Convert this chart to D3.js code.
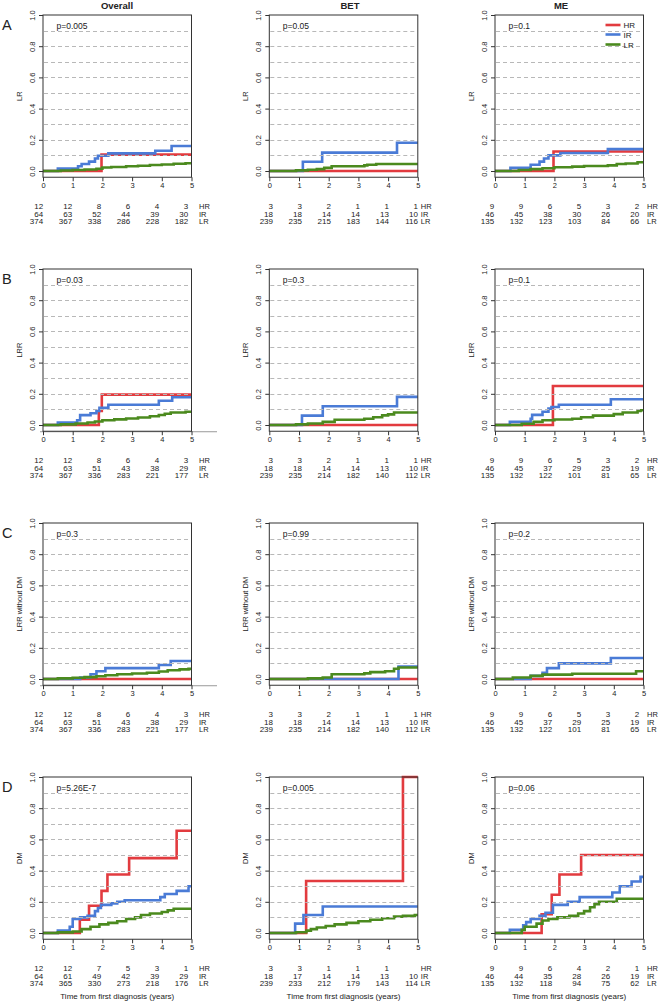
<!DOCTYPE html>
<html><head><meta charset="utf-8">
<script src="https://cdn.jsdelivr.net/npm/d3@7"></script>
<style>body{margin:0;background:#fff} svg{display:block} text{font-family:"Liberation Sans",Arial,sans-serif;fill:#222}</style>
</head><body><svg id="c" width="660" height="1007"></svg>
<script>
// ---------- categories / labels ----------
const rowLetters = ["A","B","C","D"];
const colTitles = ["Overall","BET","ME"];
const yTitles = ["LR","LRR","LRR without DM","DM"];
const groups = ["HR","IR","LR"];
const timeTicks = [0,1,2,3,4,5];
const yTickValues = [0,0.2,0.4,0.6,0.8,1.0];
const gridValues = [0.1,0.2,0.3,0.4,0.5,0.6,0.7,0.8,0.9];
const pValues = [
  ["p=0.005","p=0.05","p=0.1"],
  ["p=0.03","p=0.3","p=0.1"],
  ["p=0.3","p=0.99","p=0.2"],
  ["p=5.26E-7","p=0.005","p=0.06"]
];
const xTitle = "Time from first diagnosis (years)";

// ---------- cumulative incidence step curves [time, value] ----------
const A_Overall_HR = [[0,0],[1.97,0.105]];
const A_Overall_IR = [[0,0],[0.5,0.015],[1.18,0.03],[1.3,0.045],[1.55,0.06],[1.75,0.08],[1.85,0.098],[2.2,0.113],[3.78,0.13],[4.33,0.16]];
const A_Overall_LR = [[0,0],[0.6,0.003],[1.0,0.006],[1.4,0.01],[1.8,0.014],[2.0,0.022],[2.3,0.026],[2.8,0.03],[3.2,0.034],[3.6,0.038],[4.0,0.042],[4.4,0.046],[4.8,0.05]];
const A_BET_HR = [[0,0]];
const A_BET_IR = [[0,0],[1.13,0.059],[1.78,0.118],[4.3,0.181]];
const A_BET_LR = [[0,0],[0.9,0.004],[1.3,0.008],[1.6,0.012],[1.85,0.02],[2.1,0.03],[3.2,0.036],[3.3,0.04],[3.6,0.045]];
const A_ME_HR = [[0,0],[1.97,0.125]];
const A_ME_IR = [[0,0],[0.52,0.02],[1.2,0.04],[1.5,0.06],[1.65,0.08],[1.8,0.1],[2.2,0.115],[3.8,0.14]];
const A_ME_LR = [[0,0],[0.8,0.006],[1.2,0.012],[1.6,0.018],[2.0,0.024],[2.6,0.028],[3.0,0.032],[3.8,0.036],[4.1,0.045],[4.4,0.048],[4.8,0.056]];

const B_Overall_HR = [[0,0],[1.88,0.09],[1.98,0.195]];
const B_Overall_IR = [[0,0],[0.5,0.015],[1.15,0.03],[1.25,0.063],[1.6,0.075],[1.8,0.09],[1.9,0.11],[2.2,0.13],[3.9,0.155],[4.35,0.178]];
const B_Overall_LR = [[0,0],[0.6,0.004],[1.1,0.01],[1.5,0.016],[1.75,0.022],[2.0,0.03],[2.4,0.036],[2.8,0.042],[3.2,0.048],[3.6,0.056],[3.9,0.064],[4.1,0.072],[4.3,0.08],[4.8,0.085]];
const B_BET_HR = [[0,0]];
const B_BET_IR = [[0,0],[1.1,0.06],[1.8,0.12],[4.3,0.18]];
const B_BET_LR = [[0,0],[0.9,0.004],[1.3,0.01],[1.8,0.02],[2.2,0.034],[3.2,0.04],[3.5,0.05],[3.8,0.062],[4.0,0.068],[4.2,0.08]];
const B_ME_HR = [[0,0],[1.95,0.25]];
const B_ME_IR = [[0,0],[0.5,0.02],[1.2,0.04],[1.25,0.065],[1.6,0.085],[1.8,0.105],[1.9,0.115],[2.15,0.13],[3.9,0.165]];
const B_ME_LR = [[0,0],[0.9,0.008],[1.3,0.02],[1.6,0.03],[2.0,0.035],[2.6,0.04],[2.9,0.05],[3.3,0.06],[4.0,0.07],[4.3,0.08],[4.8,0.09],[4.9,0.095]];

const C_Overall_HR = [[0,0]];
const C_Overall_IR = [[0,0],[1.25,0.01],[1.6,0.03],[1.8,0.05],[2.1,0.07],[3.9,0.09],[4.3,0.115]];
const C_Overall_LR = [[0,0],[0.5,0.004],[1.0,0.008],[1.4,0.012],[1.8,0.018],[2.1,0.024],[2.5,0.03],[3.0,0.035],[3.5,0.04],[3.9,0.048],[4.2,0.056],[4.6,0.062],[4.9,0.065]];
const C_BET_HR = [[0,0]];
const C_BET_IR = [[0,0],[4.35,0.08]];
const C_BET_LR = [[0,0],[1.3,0.004],[1.8,0.01],[2.1,0.03],[3.2,0.036],[3.4,0.044],[3.9,0.05],[4.2,0.066],[4.35,0.074]];
const C_ME_HR = [[0,0]];
const C_ME_IR = [[0,0],[1.2,0.02],[1.6,0.04],[1.75,0.07],[2.15,0.1],[3.9,0.135]];
const C_ME_LR = [[0,0],[0.6,0.01],[1.2,0.02],[1.6,0.028],[2.6,0.034],[4.75,0.05]];

const D_Overall_HR = [[0,0],[1.24,0.085],[1.55,0.175],[1.97,0.27],[2.17,0.375],[2.9,0.48],[4.5,0.655]];
const D_Overall_IR = [[0,0],[0.5,0.015],[0.9,0.04],[1.0,0.09],[1.25,0.1],[1.5,0.11],[1.75,0.14],[1.85,0.16],[1.95,0.18],[2.3,0.19],[2.5,0.2],[2.75,0.21],[3.95,0.23],[4.1,0.25],[4.5,0.27],[4.9,0.3]];
const D_Overall_LR = [[0,0],[0.5,0.004],[1.0,0.01],[1.3,0.025],[1.6,0.04],[1.9,0.055],[2.2,0.065],[2.5,0.075],[2.8,0.09],[3.1,0.1],[3.3,0.115],[3.6,0.125],[4.0,0.135],[4.2,0.145],[4.4,0.155]];
const D_BET_HR = [[0,0],[1.24,0.333],[4.5,1.0]];
const D_BET_IR = [[0,0],[0.87,0.06],[1.15,0.115],[1.8,0.17]];
const D_BET_LR = [[0,0],[0.9,0.005],[1.25,0.015],[1.4,0.025],[1.6,0.035],[1.9,0.045],[2.2,0.055],[2.6,0.065],[3.0,0.075],[3.4,0.085],[3.8,0.095],[4.2,0.105],[4.5,0.11],[4.9,0.115]];
const D_ME_HR = [[0,0],[1.57,0.12],[1.91,0.245],[2.17,0.375],[2.9,0.5]];
const D_ME_IR = [[0,0],[0.5,0.02],[0.95,0.05],[1.05,0.07],[1.2,0.09],[1.5,0.11],[1.7,0.13],[1.95,0.18],[2.45,0.2],[2.85,0.23],[3.95,0.26],[4.2,0.3],[4.6,0.33],[4.9,0.36]];
const D_ME_LR = [[0,0],[0.9,0.02],[1.0,0.04],[1.4,0.06],[1.6,0.08],[1.8,0.09],[2.1,0.1],[2.5,0.11],[2.8,0.125],[3.0,0.14],[3.2,0.165],[3.35,0.185],[3.5,0.2],[4.1,0.22]];

// ---------- numbers at risk (rows HR, IR, LR; columns = timeTicks) ----------
const risk_A_Overall = [[12,12,8,6,4,3],[64,63,52,44,39,30],[374,367,338,286,228,182]];
const risk_A_BET = [[3,3,2,1,1,1],[18,18,14,14,13,10],[239,235,215,183,144,116]];
const risk_A_ME = [[9,9,6,5,3,2],[46,45,38,30,26,20],[135,132,123,103,84,66]];
const risk_B_Overall = [[12,12,8,6,4,3],[64,63,51,43,38,29],[374,367,336,283,221,177]];
const risk_B_BET = [[3,3,2,1,1,1],[18,18,14,14,13,10],[239,235,214,182,140,112]];
const risk_B_ME = [[9,9,6,5,3,2],[46,45,37,29,25,19],[135,132,122,101,81,65]];
const risk_C_Overall = [[12,12,8,6,4,3],[64,63,51,43,38,29],[374,367,336,283,221,177]];
const risk_C_BET = [[3,3,2,1,1,1],[18,18,14,14,13,10],[239,235,214,182,140,112]];
const risk_C_ME = [[9,9,6,5,3,2],[46,45,37,29,25,19],[135,132,122,101,81,65]];
const risk_D_Overall = [[12,12,7,5,3,1],[64,61,49,42,39,29],[374,365,330,273,218,176]];
const risk_D_BET = [[3,3,1,1,1,""],[18,17,14,14,13,10],[239,233,212,179,143,114]];
const risk_D_ME = [[9,9,6,4,2,1],[46,44,35,28,26,19],[135,132,118,94,75,62]];

const groupColors = ["#e23b3f","#4a7bd6","#4b8a1e"];

// table built from the arrays above
const curveTable = [
  [[A_Overall_HR,A_Overall_IR,A_Overall_LR],[A_BET_HR,A_BET_IR,A_BET_LR],[A_ME_HR,A_ME_IR,A_ME_LR]],
  [[B_Overall_HR,B_Overall_IR,B_Overall_LR],[B_BET_HR,B_BET_IR,B_BET_LR],[B_ME_HR,B_ME_IR,B_ME_LR]],
  [[C_Overall_HR,C_Overall_IR,C_Overall_LR],[C_BET_HR,C_BET_IR,C_BET_LR],[C_ME_HR,C_ME_IR,C_ME_LR]],
  [[D_Overall_HR,D_Overall_IR,D_Overall_LR],[D_BET_HR,D_BET_IR,D_BET_LR],[D_ME_HR,D_ME_IR,D_ME_LR]]
];
const riskTable = [
  [risk_A_Overall,risk_A_BET,risk_A_ME],
  [risk_B_Overall,risk_B_BET,risk_B_ME],
  [risk_C_Overall,risk_C_BET,risk_C_ME],
  [risk_D_Overall,risk_D_BET,risk_D_ME]
];

// ---------- layout ----------
const colLeft = [43, 269.3, 495];
const plotW = 148.5;
const rowTop = [15, 269, 523, 777];
const plotH = 156;
const colTitleX = [117, 350, 561];
const riskShift = [0.2, 3.7, -0.8];      // per-column horizontal shift of the at-risk table
const riskLabelDx = [7.5, 3, 3.5];        // group label offset right of x=5

const svg = d3.select("#c");
svg.append("rect").attr("width",660).attr("height",1007).attr("fill","#fff");

colTitles.forEach((t,i)=>{
  svg.append("text").attr("x",colTitleX[i]).attr("y",9).attr("text-anchor","middle")
    .attr("font-size",9.5).attr("font-weight","bold").text(t);
});

rowLetters.forEach((L,r)=>{
  svg.append("text").attr("x",2).attr("y",rowTop[r]+15).attr("font-size",14.5).text(L);
});

const stepLine = d3.line().curve(d3.curveStepAfter);

for (let r=0;r<4;r++){
  for (let c=0;c<3;c++){
    const x = d3.scaleLinear().domain([0,5]).range([colLeft[c], colLeft[c]+plotW]);
    const y = d3.scaleLinear().domain([0,1]).range([rowTop[r]+plotH, rowTop[r]]);
    const g = svg.append("g");
    const fb = y(-0.04);

    if (c===0 && (r===1 || r===2)) {
      g.append("line").attr("x1",40).attr("x2",217).attr("y1",fb+0.5).attr("y2",fb+0.5)
        .attr("stroke","#999").attr("stroke-width",1);
    }

    curveTable[r][c].forEach((pts,gi)=>{
      const last = pts[pts.length-1];
      const full = pts.concat(last[0] < 5 ? [[5,last[1]]] : []);
      g.append("path").attr("d", stepLine(full.map(p=>[x(p[0]), y(p[1])])))
        .attr("fill","none").attr("stroke",groupColors[gi]).attr("stroke-width",2.6)
        .attr("stroke-linejoin","miter");
    });

    g.selectAll(".grid").data(gridValues).join("line")
      .attr("x1",x(0)+1).attr("x2",x(5)-1)
      .attr("y1",d=>Math.round(y(d))+0.5).attr("y2",d=>Math.round(y(d))+0.5)
      .attr("stroke","#b8b8b8").attr("stroke-width",1).attr("stroke-dasharray","4,3");

    g.append("rect").attr("x",x(0)).attr("y",y(1)).attr("width",plotW).attr("height",fb-y(1))
      .attr("fill","none").attr("stroke","#333").attr("stroke-width",1);

    const ya = g.append("g").attr("transform",`translate(${x(0)},0)`)
      .call(d3.axisLeft(y).tickValues(yTickValues).tickFormat(d3.format(".1f")).tickSize(4));
    ya.select(".domain").remove();
    ya.selectAll("line").attr("stroke","#333");
    ya.selectAll("text").attr("x",null).attr("dy",null).attr("text-anchor","middle")
      .attr("transform","translate(-8,0) rotate(-90)").attr("font-size",7.5).attr("fill","#333")
      .style("font-family","'Liberation Sans',Arial,sans-serif");

    const xa = g.append("g").attr("transform",`translate(0,${fb})`)
      .call(d3.axisBottom(x).tickValues(timeTicks).tickFormat(d3.format("d")).tickSize(4).tickPadding(1.5));
    xa.select(".domain").remove();
    xa.selectAll("line").attr("stroke","#333");
    xa.selectAll("text").attr("font-size",7.5).attr("fill","#333")
      .style("font-family","'Liberation Sans',Arial,sans-serif");

    g.append("text").attr("transform",`translate(${x(0)-21},${(y(1)+fb)/2}) rotate(-90)`)
      .attr("text-anchor","middle").attr("font-size",7.5).text(yTitles[r]);

    g.append("text").attr("x",x(0)+13.5).attr("y",rowTop[r]+13.5).attr("font-size",8.5).text(pValues[r][c]);

    riskTable[r][c].forEach((row,gi)=>{
      const yy = fb + 32 + gi*7.6;
      row.forEach((v,ti)=>{
        const xx = x(timeTicks[ti]) + riskShift[c] - 0.72*timeTicks[ti];
        g.append("text").attr("x",xx).attr("y",yy).attr("text-anchor","end").attr("font-size",8).text(v);
      });
      g.append("text").attr("x",x(5)+riskLabelDx[c]).attr("y",yy).attr("font-size",7.5).text(groups[gi]);
    });

    if (r===3) {
      g.append("text").attr("x",(x(0)+x(5))/2).attr("y",999).attr("text-anchor","middle")
        .attr("font-size",8).text(xTitle);
    }

    if (r===0 && c===2) {
      const ly = [rowTop[r]+10, rowTop[r]+19.5, rowTop[r]+29.5];
      groups.forEach((gname,gi)=>{
        g.append("line").attr("x1",x(5)-38).attr("x2",x(5)-23).attr("y1",ly[gi]).attr("y2",ly[gi])
          .attr("stroke",groupColors[gi]).attr("stroke-width",2.6);
        g.append("text").attr("x",x(5)-20).attr("y",ly[gi]+3).attr("font-size",8).text(gname);
      });
    }
  }
}
</script></body></html>
